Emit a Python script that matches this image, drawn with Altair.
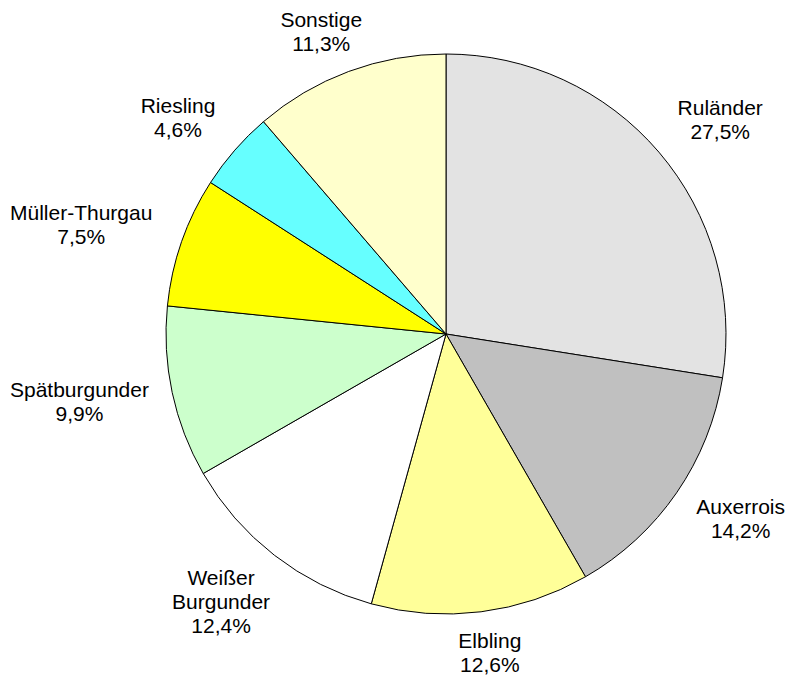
import altair as alt
import pandas as pd
import math

categories = ["Ruländer", "Auxerrois", "Elbling", "Weißer Burgunder", "Spätburgunder",
              "Müller-Thurgau", "Riesling", "Sonstige"]
shares = [27.5, 14.2, 12.6, 12.4, 9.9, 7.5, 4.6, 11.3]
label_names = ["Ruländer", "Auxerrois", "Elbling", "Weißer\nBurgunder", "Spätburgunder",
               "Müller-Thurgau", "Riesling", "Sonstige"]
colors = ["#E3E3E3", "#C0C0C0", "#FFFF99", "#FFFFFF", "#CCFFCC", "#FFFF00", "#66FFFF", "#FFFFCC"]

W, H = 778, 671
R = 280
FS = 21
LH = 24
GAPX = 38
GAPY = 24
CX, CY = 438, 326
YMIN, YMAX = 25, 646  # keep label blocks inside the chart area

# approximate Arial/Liberation Sans advance widths (em) used to size label boxes
CW = {"R": .722, "u": .556, "l": .222, "ä": .556, "n": .556, "d": .556, "e": .556, "r": .333,
      "A": .667, "x": .5, "o": .556, "i": .222, "s": .5, "E": .667, "b": .556, "g": .556,
      "W": .944, "ß": .611, "B": .667, "S": .667, "p": .556, "t": .278, "M": .833, "ü": .556,
      "-": .333, "T": .611, "h": .556, "a": .556, ",": .278, "%": .889}

def tw(s):
    return sum(CW.get(c, .556) for c in s) * FS

df = pd.DataFrame({"cat": categories, "share": shares, "idx": list(range(len(categories)))})
pct = [f"{v:.1f}".replace(".", ",") + "%" for v in shares]
df["label"] = [n + "\n" + p for n, p in zip(label_names, pct)]

total = sum(shares)
cum = 0.0
mids, hws, nl = [], [], []
for name, p, v in zip(label_names, pct, shares):
    mids.append(cum + v / 2)
    cum += v
    lines = name.split("\n") + [p]
    hws.append(max(tw(s) for s in lines) / 2)
    nl.append(len(lines))
df["mid"] = mids
df["hw"] = hws
df["nlines"] = nl

pie = alt.Chart(df).mark_arc(outerRadius=R, stroke="black", strokeWidth=1).encode(
    theta=alt.Theta("share:Q", stack=True),
    order=alt.Order("idx:Q"),
    color=alt.Color("cat:N", scale=alt.Scale(domain=categories, range=colors), legend=None),
    x=alt.value(CX),
    y=alt.value(CY),
)

text = alt.Chart(df).transform_calculate(
    th=f"datum.mid / {total} * 2 * PI",
    hh=f"datum.nlines * {LH} / 2",
).transform_calculate(
    cx=f"clamp({CX} + ({R} + {GAPX} + datum.hw) * sin(datum.th), datum.hw + 2, {W} - datum.hw - 1)",
    cy=f"clamp({CY} - ({R} + {GAPY} + datum.hh) * cos(datum.th), {YMIN}, {YMAX})",
).transform_calculate(
    ly=f"datum.cy - (datum.nlines - 1) * {LH} / 2",
).mark_text(font="Liberation Sans", fontSize=FS, lineHeight=LH, lineBreak="\n",
            align="center", baseline="middle", color="black").encode(
    x=alt.X("cx:Q", scale=None, axis=None),
    y=alt.Y("ly:Q", scale=None, axis=None),
    text="label:N",
)

chart = alt.layer(pie, text).properties(
    width=W, height=H, padding=0,
    autosize=alt.AutoSizeParams(type="none"),
).configure_view(stroke=None)

chart.save("out.html", embed_options={"renderer": "svg", "actions": False})
